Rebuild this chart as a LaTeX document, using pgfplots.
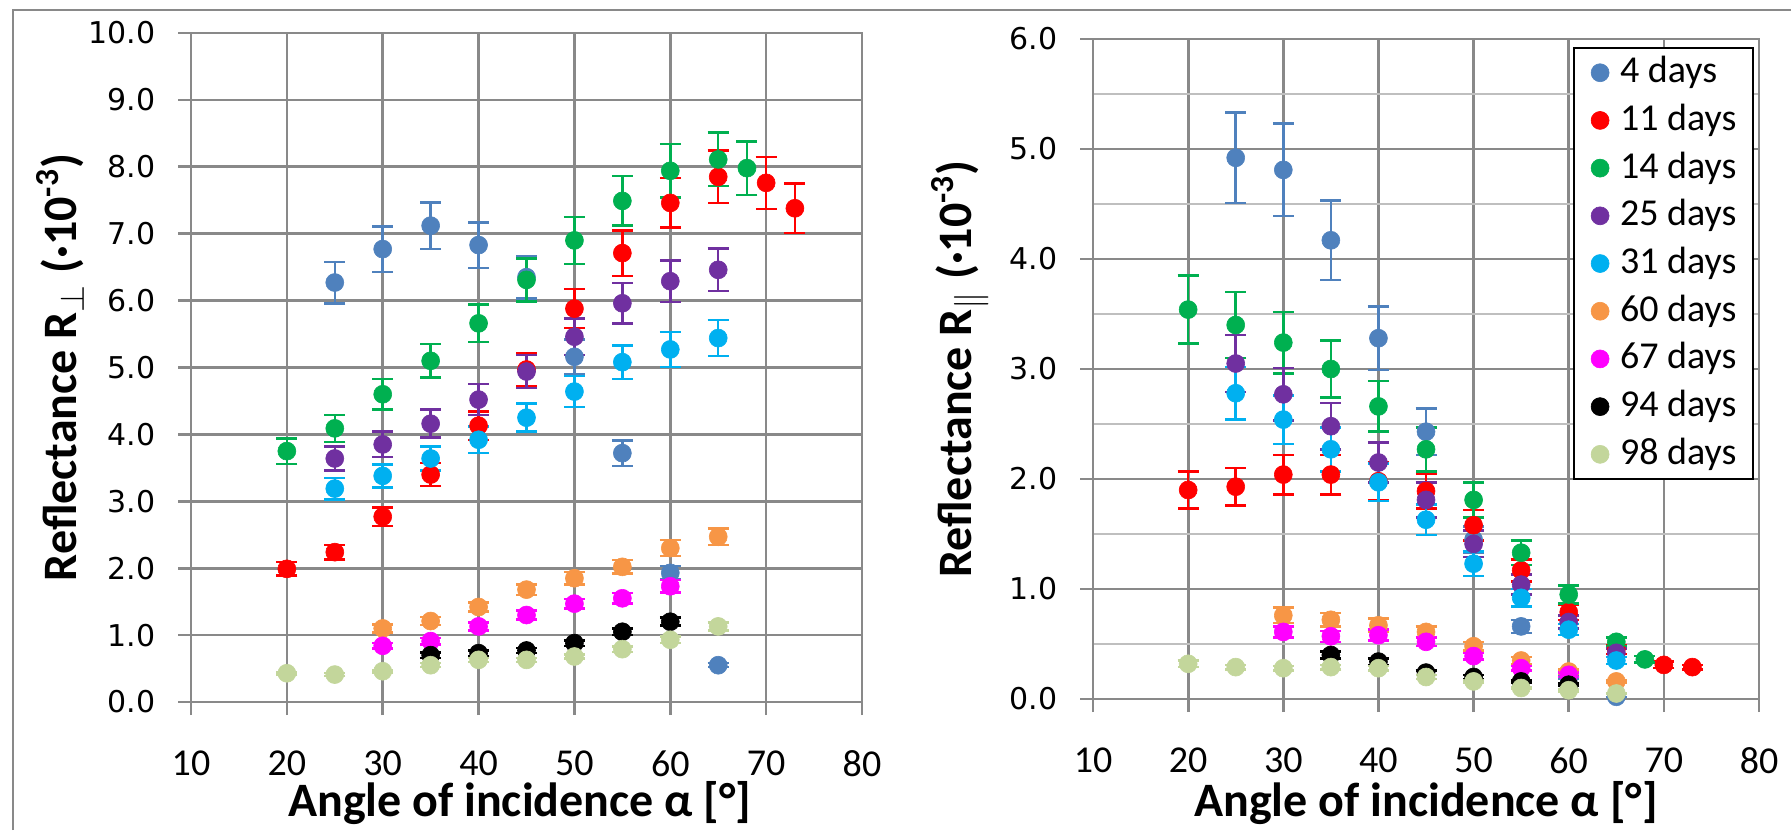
\documentclass[border=0pt]{standalone}
\usepackage{pgfplots}
\pgfplotsset{compat=1.18}
\usepackage{fontspec}
\setmainfont{Carlito}
\newfontfamily\verd{DejaVu Sans}
\definecolor{c4}{HTML}{4F81BD}
\definecolor{c11}{HTML}{FF0000}
\definecolor{c14}{HTML}{00B050}
\definecolor{c25}{HTML}{7030A0}
\definecolor{c31}{HTML}{00B0F0}
\definecolor{c60}{HTML}{F79646}
\definecolor{c67}{HTML}{FF00FF}
\definecolor{c94}{HTML}{000000}
\definecolor{c98}{HTML}{C3D69B}
\definecolor{gridc}{HTML}{898989}
\definecolor{minorc}{HTML}{BFBFBF}
\pgfplotsset{
 ser/.style={only marks, mark=*, mark size=4.5pt, color=#1,
   mark options={solid, fill=#1, draw=#1, line width=0.3pt},
   error bars/.cd, y dir=both, y explicit,
   error bar style={line width=1.25pt, color=#1, solid},
   error mark options={rotate=90, mark size=5.25pt, line width=1.25pt, color=#1}},
 common/.style={
   scale only axis,
   xmin=10, xmax=80, xtick={10,20,...,80},
   grid=major, major grid style={gridc, line width=1.35pt},
   axis line style={gridc, line width=1.35pt},
   tick style={gridc, line width=1.35pt},
   tick align=center, major tick length=13pt,
   xtick pos=left, ytick pos=left,
   /pgf/number format/assume math mode=true,
   xticklabel style={font=\fontsize{19}{23}\selectfont, anchor=north, inner sep=0pt, yshift=-17.75pt},
   yticklabel style={font=\verd\fontsize{15}{18}\selectfont, anchor=east, inner sep=0pt, xshift=-11pt},
   yticklabel={\pgfmathprintnumber[fixed, fixed zerofill, precision=1, assume math mode=true]{\tick}},
   label style={font=\bfseries\fontsize{24}{29}\selectfont},
   xlabel={Angle of incidence α [°]},
   clip=false,
 }
}
\begin{document}
\begin{tikzpicture}
\useasboundingbox (0pt,0pt) rectangle (895.5pt,415pt);
\draw[gridc, line width=0.7pt] (6.5pt,0pt) -- (6.5pt,410pt) -- (895.5pt,410pt);
% ---------------- left: perpendicular ----------------
\begin{axis}[common,
  at={(95.5pt,64pt)}, anchor=south west,
  width=335.5pt, height=334.5pt,
  ymin=0, ymax=10, ytick={0,1,...,10},
  xlabel style={at={(axis description cs:0.49,-0.151)}, anchor=center},
  ylabel style={at={(axis description cs:-0.195,0.5)}, anchor=center},
  ylabel={Reflectance R$_{\perp}$ (·10\textsuperscript{-3})},
]
\addplot[ser=c4] table[x index=0, y index=1, y error index=2] {
25 6.27 0.31
30 6.77 0.34
35 7.12 0.35
40 6.83 0.34
45 6.35 0.32
50 5.16 0.26
55 3.72 0.19
60 1.93 0.10
65 0.55 0.03
};
\addplot[ser=c11] table[x index=0, y index=1, y error index=2] {
20 1.99 0.10
25 2.24 0.11
30 2.77 0.14
35 3.40 0.17
40 4.13 0.21
45 4.97 0.25
50 5.88 0.29
55 6.71 0.34
60 7.46 0.37
65 7.85 0.39
70 7.76 0.39
73 7.38 0.37
};
\addplot[ser=c14] table[x index=0, y index=1, y error index=2] {
20 3.75 0.19
25 4.09 0.20
30 4.60 0.23
35 5.10 0.25
40 5.66 0.28
45 6.31 0.32
50 6.90 0.35
55 7.49 0.37
60 7.94 0.40
65 8.11 0.40
68 7.98 0.40
};
\addplot[ser=c25] table[x index=0, y index=1, y error index=2] {
25 3.64 0.18
30 3.85 0.19
35 4.16 0.21
40 4.52 0.23
45 4.94 0.25
50 5.46 0.27
55 5.96 0.30
60 6.29 0.31
65 6.46 0.32
};
\addplot[ser=c31] table[x index=0, y index=1, y error index=2] {
25 3.19 0.16
30 3.38 0.17
35 3.64 0.18
40 3.92 0.20
45 4.25 0.21
50 4.64 0.23
55 5.08 0.25
60 5.27 0.26
65 5.44 0.27
};
\addplot[ser=c60] table[x index=0, y index=1, y error index=2] {
30 1.10 0.06
35 1.21 0.06
40 1.42 0.07
45 1.68 0.08
50 1.85 0.09
55 2.02 0.10
60 2.30 0.12
65 2.47 0.12
};
\addplot[ser=c67] table[x index=0, y index=1, y error index=2] {
30 0.84 0.04
35 0.91 0.05
40 1.13 0.06
45 1.30 0.07
50 1.47 0.07
55 1.55 0.08
60 1.73 0.09
};
\addplot[ser=c94] table[x index=0, y index=1, y error index=2] {
35 0.70 0.04
40 0.73 0.04
45 0.77 0.04
50 0.88 0.04
55 1.05 0.05
60 1.20 0.06
};
\addplot[ser=c98] table[x index=0, y index=1, y error index=2] {
20 0.43 0.02
25 0.41 0.02
30 0.46 0.02
35 0.55 0.03
40 0.63 0.03
45 0.63 0.03
50 0.68 0.03
55 0.79 0.04
60 0.93 0.05
65 1.13 0.06
};
\end{axis}
% ---------------- right: parallel ----------------
\begin{axis}[common,
  at={(546.5pt,65.5pt)}, anchor=south west,
  width=333pt, height=330pt,
  ymin=0, ymax=6, ytick={0,1,...,6},
  minor y tick num=1, yminorgrids=true,
  minor grid style={minorc, line width=1.2pt},
  minor tick length=0pt,
  xlabel style={at={(axis description cs:0.5,-0.158)}, anchor=center},
  ylabel style={at={(axis description cs:-0.2,0.5)}, anchor=center},
  ylabel={Reflectance R$_{\|}$ (·10\textsuperscript{-3})},
  legend style={at={(axis description cs:0.7207,0.988)}, anchor=north west,
    draw=black, line width=1.1pt, fill=white,
    font=\fontsize{19}{23}\selectfont,
    inner xsep=8.5pt, inner ysep=3.35pt,
    nodes={inner sep=0pt, text height=14pt, text depth=4pt},
    row sep=5.85pt},
  legend cell align=left,
  legend image code/.code={\draw[#1] plot coordinates {(0pt,0pt)};},
  /tikz/every odd column/.append style={column sep=5.5pt},
]
\addplot[ser=c4] table[x index=0, y index=1, y error index=2] {
25 4.92 0.41
30 4.81 0.42
35 4.17 0.36
40 3.28 0.29
45 2.43 0.21
50 1.45 0.12
55 0.66 0.06
60 0.20 0.02
65 0.02 0.00
};
\addplot[ser=c11] table[x index=0, y index=1, y error index=2] {
20 1.90 0.17
25 1.93 0.17
30 2.04 0.18
35 2.04 0.18
40 1.98 0.17
45 1.89 0.16
50 1.58 0.14
55 1.17 0.10
60 0.79 0.07
65 0.45 0.04
70 0.31 0.03
73 0.29 0.02
};
\addplot[ser=c14] table[x index=0, y index=1, y error index=2] {
20 3.54 0.31
25 3.40 0.30
30 3.24 0.28
35 3.00 0.26
40 2.66 0.23
45 2.27 0.20
50 1.81 0.16
55 1.33 0.11
60 0.95 0.08
65 0.52 0.04
68 0.36 0.03
};
\addplot[ser=c25] table[x index=0, y index=1, y error index=2] {
25 3.05 0.26
30 2.77 0.24
35 2.48 0.21
40 2.15 0.18
45 1.81 0.16
50 1.41 0.12
55 1.04 0.09
60 0.70 0.06
65 0.42 0.04
};
\addplot[ser=c31] table[x index=0, y index=1, y error index=2] {
25 2.78 0.24
30 2.54 0.22
35 2.27 0.20
40 1.97 0.17
45 1.63 0.14
50 1.23 0.11
55 0.92 0.08
60 0.63 0.05
65 0.35 0.03
};
\addplot[ser=c60] table[x index=0, y index=1, y error index=2] {
30 0.76 0.07
35 0.72 0.06
40 0.67 0.06
45 0.61 0.05
50 0.48 0.04
55 0.35 0.03
60 0.25 0.02
65 0.16 0.01
};
\addplot[ser=c67] table[x index=0, y index=1, y error index=2] {
30 0.61 0.05
35 0.57 0.05
40 0.58 0.05
45 0.52 0.04
50 0.39 0.03
55 0.28 0.02
60 0.22 0.02
};
\addplot[ser=c94] table[x index=0, y index=1, y error index=2] {
35 0.40 0.03
40 0.34 0.03
45 0.24 0.02
50 0.20 0.02
55 0.16 0.01
60 0.13 0.01
};
\addplot[ser=c98] table[x index=0, y index=1, y error index=2] {
20 0.32 0.03
25 0.29 0.02
30 0.28 0.02
35 0.29 0.02
40 0.28 0.02
45 0.20 0.02
50 0.16 0.01
55 0.10 0.01
60 0.08 0.01
65 0.05 0.00
};
\legend{4 days, 11 days, 14 days, 25 days, 31 days, 60 days, 67 days, 94 days, 98 days}
\end{axis}
\end{tikzpicture}
\end{document}
